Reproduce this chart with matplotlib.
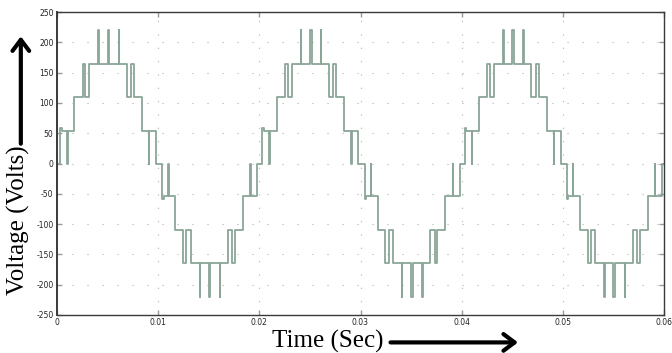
import numpy as np
import matplotlib.pyplot as plt

plt.rcParams['axes.unicode_minus'] = False

# one period of the multilevel inverter output (switch time, level after switch)
period = 0.02
n_cycles = 3
sw_time = [0.0, 0.0003, 0.00045, 0.0010, 0.00104, 0.0017, 0.00255, 0.0028, 0.0032,
           0.0041, 0.00414, 0.0050, 0.00516, 0.0061, 0.00614, 0.0069, 0.00732, 0.0076,
           0.0084, 0.0091, 0.00914, 0.0098,
           0.0104, 0.01055, 0.0110, 0.01104, 0.0117, 0.01245, 0.0128, 0.0132,
           0.0141, 0.01414, 0.0150, 0.01516, 0.0161, 0.01614, 0.0169, 0.01732, 0.0176,
           0.0184, 0.0191, 0.01914, 0.0198]
sw_level = [0, 58, 54, 0, 54, 110, 165, 110, 165,
            220, 165, 220, 165, 220, 165, 110, 165, 110,
            54, 0, 54, 0,
            -59, -54, 0, -54, -110, -165, -110, -165,
            -220, -165, -220, -165, -220, -165, -110, -165, -110,
            -54, 0, -54, 0]

x_ticks = [0, 0.01, 0.02, 0.03, 0.04, 0.05, 0.06]
x_ticklabels = ['0', '0.01', '0.02', '0.03', '0.04', '0.05', '0.06']
y_ticks = [-250, -200, -150, -100, -50, 0, 50, 100, 150, 200, 250]

# repeat the period over the shown window
t = np.concatenate([np.array(sw_time) + k * period for k in range(n_cycles)] + [[0.06]])
v = np.concatenate([sw_level] * n_cycles + [[0]])

fig = plt.figure(figsize=(6.72, 3.53), dpi=100)
ax = fig.add_axes([57/672, 1 - 315/353, (664 - 57)/672, (315 - 12)/353])

ax.plot(t, v, drawstyle='steps-post', color='#8aa697', lw=1.3)

ax.set_xlim(0, 0.06)
ax.set_ylim(-250, 250)
ax.set_xticks(x_ticks)
ax.set_xticklabels(x_ticklabels)
ax.set_yticks(y_ticks)
ax.tick_params(direction='in', length=3.5, width=1, color='#9a9a9a',
               top=True, right=True, labelsize=5.5, labelcolor='#222222', pad=2.5)
ax.tick_params(axis='y', which='major', right=True)

ax.set_axisbelow(True)
ax.xaxis.grid(True, linestyle=(0, (1, 11)), color='#b0b0b0', lw=0.8)
ax.yaxis.grid(True, linestyle=(0, (1, 12.5)), color='#b0b0b0', lw=0.8)

for s in ax.spines.values():
    s.set_color('#3a3a3a')
    s.set_linewidth(1.0)
ax.spines['left'].set_linewidth(1.4)

# axis titles with arrows
fig.text(0.028, 0.377, 'Voltage (Volts)', rotation=90, family='Liberation Serif',
         size=18, ha='center', va='center')
fig.text(0.487, 0.034, 'Time (Sec)', family='Liberation Serif',
         size=18, ha='center', va='center')

arrow = dict(arrowstyle='->,head_length=0.8,head_width=0.6', lw=3, color='black')
ax.annotate('', xy=(0.031, 0.905), xytext=(0.031, 0.585),
            xycoords='figure fraction', arrowprops=arrow)
ax.annotate('', xy=(0.775, 0.030), xytext=(0.577, 0.030),
            xycoords='figure fraction', arrowprops=arrow)

fig.savefig('out.png', dpi=100)
